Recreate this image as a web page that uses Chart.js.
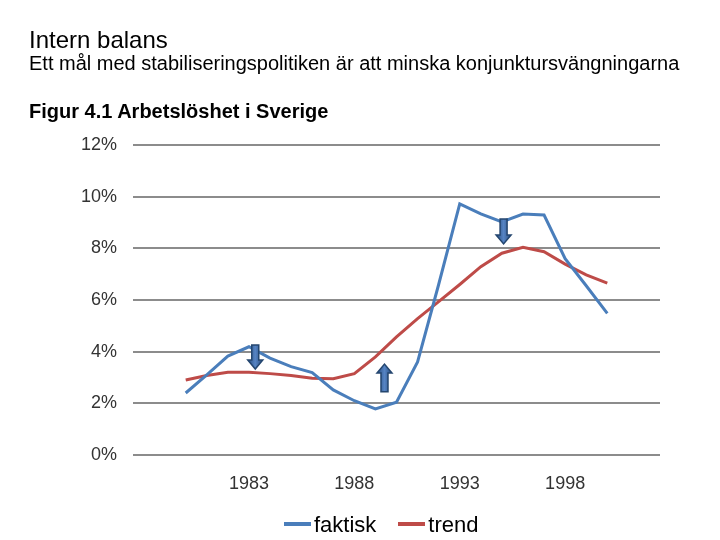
<!DOCTYPE html>
<html lang="sv">
<head>
<meta charset="utf-8">
<title>Figur 4.1 Arbetslöshet i Sverige</title>
<script src="https://cdn.jsdelivr.net/npm/chart.js@4.4.1/dist/chart.umd.min.js"></script>
<style>
  html, body { margin: 0; padding: 0; background: #fff; }
  body { width: 720px; height: 540px; position: relative; overflow: hidden;
         font-family: 'Liberation Sans', Arial, sans-serif; color: #000; }
  #chart { position: absolute; left: 0; top: 0; }
  .txt { position: absolute; left: 29px; line-height: 1; white-space: nowrap; }
  #t1 { top: 28px; font-size: 24px; }
  #t2 { top: 53px; font-size: 20px; }
  #t3 { top: 101px; font-size: 20px; font-weight: bold; }
  #legend { position: absolute; left: 284px; top: 509px; font-size: 22px; line-height: 22px; white-space: nowrap; }
  #legend .item { display: inline-flex; align-items: center; margin-right: 22px; }
  #legend .item i { display: inline-block; width: 27px; height: 4px; margin-right: 3px; position: relative; top: -1px; }
</style>
</head>
<body>
<canvas id="chart" width="720" height="540"></canvas>
<div class="txt" id="t1">Intern balans</div>
<div class="txt" id="t2">Ett mål med stabiliseringspolitiken är att minska konjunktursvängningarna</div>
<div class="txt" id="t3">Figur 4.1 Arbetslöshet i Sverige</div>
<div id="legend"></div>

<script>
// Arbetslöshet i procent, 1980–2000
const years   = [1980, 1981, 1982, 1983, 1984, 1985, 1986, 1987, 1988, 1989, 1990,
                 1991, 1992, 1993, 1994, 1995, 1996, 1997, 1998, 1999, 2000];
const faktisk = [2.4, 3.1, 3.83, 4.19, 3.75, 3.42, 3.19, 2.52, 2.1, 1.78, 2.04,
                 3.6, 6.6, 9.72, 9.33, 9.02, 9.33, 9.29, 7.6, 6.55, 5.48];
const trend   = [2.9, 3.08, 3.2, 3.2, 3.15, 3.08, 2.97, 2.95, 3.15, 3.8, 4.57,
                 5.28, 5.94, 6.6, 7.29, 7.81, 8.04, 7.87, 7.39, 6.97, 6.65];

const yearTicks = [1983, 1988, 1993, 1998];
const pctTicks  = [0, 2, 4, 6, 8, 10, 12];

// pilar: år, från-värde, till-värde (spetsen pekar mot "to")
const arrows = [
  { year: 1983.3,  from: 4.26, to: 3.33 },
  { year: 1989.43, from: 2.45, to: 3.52 },
  { year: 1995.08, from: 9.14, to: 8.17 },
];

const BLUE = '#4a7ebb';
const RED  = '#be4b48';
const tickFont = { family: "'Liberation Sans', Arial, sans-serif", size: 18 };

const arrowPlugin = {
  id: 'arrows',
  afterDatasetsDraw(chart) {
    const { ctx, scales: { x, y } } = chart;
    arrows.forEach(a => {
      const cx = x.getPixelForValue(a.year);
      const y0 = y.getPixelForValue(a.from);
      const y1 = y.getPixelForValue(a.to);
      const dir = Math.sign(y1 - y0);
      const shaft = 3.5, head = 7.5, headLen = 9;
      const yh = y1 - dir * headLen;

      ctx.save();
      ctx.beginPath();
      ctx.moveTo(cx - shaft, y0);
      ctx.lineTo(cx + shaft, y0);
      ctx.lineTo(cx + shaft, yh);
      ctx.lineTo(cx + head, yh);
      ctx.lineTo(cx, y1);
      ctx.lineTo(cx - head, yh);
      ctx.lineTo(cx - shaft, yh);
      ctx.closePath();
      const g = ctx.createLinearGradient(cx - head, 0, cx + head, 0);
      g.addColorStop(0, '#274c7e');
      g.addColorStop(0.5, '#5684c4');
      g.addColorStop(1, '#274c7e');
      ctx.fillStyle = g;
      ctx.fill();
      ctx.strokeStyle = '#24466f';
      ctx.lineWidth = 1.5;
      ctx.stroke();
      ctx.restore();
    });
  }
};

const chart = new Chart(document.getElementById('chart'), {
  type: 'line',
  data: {
    datasets: [
      {
        label: 'faktisk',
        data: years.map((yr, i) => ({ x: yr, y: faktisk[i] })),
        borderColor: BLUE,
        backgroundColor: BLUE,
        borderWidth: 3,
        pointRadius: 0,
        tension: 0,
      },
      {
        label: 'trend',
        data: years.map((yr, i) => ({ x: yr, y: trend[i] })),
        borderColor: RED,
        backgroundColor: RED,
        borderWidth: 3,
        pointRadius: 0,
        tension: 0,
      }
    ]
  },
  options: {
    responsive: false,
    animation: false,
    devicePixelRatio: 1,
    layout: { padding: { top: 145, right: 60, bottom: 45, left: 0 } },
    plugins: { legend: { display: false }, tooltip: { enabled: false } },
    scales: {
      x: {
        type: 'linear',
        min: 1977.5,
        max: 2002.5,
        grid: { display: false },
        border: { display: false },
        afterBuildTicks: s => { s.ticks = yearTicks.map(v => ({ value: v })); },
        afterFit: s => { s.height = 40; },
        ticks: {
          autoSkip: false,
          maxRotation: 0,
          padding: 10,
          color: '#333',
          font: tickFont,
          callback: v => String(v)
        }
      },
      y: {
        min: 0,
        max: 12,
        grid: { color: '#8c8c8c', lineWidth: 2, drawTicks: false },
        border: { display: false },
        afterBuildTicks: s => { s.ticks = pctTicks.map(v => ({ value: v })); },
        afterFit: s => { s.width = 133; },
        ticks: {
          padding: 16,
          color: '#333',
          font: tickFont,
          callback: v => v + '%'
        }
      }
    }
  },
  plugins: [arrowPlugin]
});

// legend som HTML, byggd från dataserierna
const legend = document.getElementById('legend');
chart.data.datasets.forEach(ds => {
  const item = document.createElement('span');
  item.className = 'item';
  const swatch = document.createElement('i');
  swatch.style.background = ds.borderColor;
  item.appendChild(swatch);
  item.appendChild(document.createTextNode(ds.label));
  legend.appendChild(item);
});
</script>
</body>
</html>
